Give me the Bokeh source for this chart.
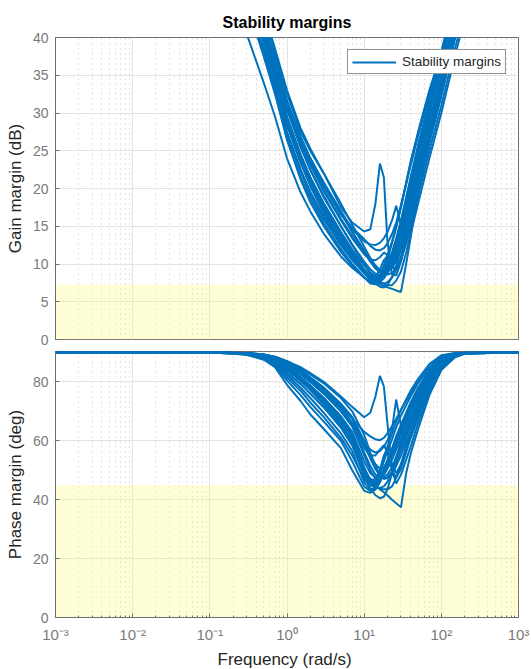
from bokeh.plotting import figure
from bokeh.models import Range1d, BoxAnnotation, FixedTicker, Legend, LegendItem
from bokeh.layouts import column
from bokeh.embed import file_html
from bokeh.resources import INLINE

# ---------------- data ----------------
freq = [0.001, 0.1, 0.2, 0.3, 0.5, 0.7, 1, 1.5, 2, 3, 5, 7, 10, 12, 14, 16, 18, 20,
        23, 26, 30, 35, 40, 50, 70, 100, 150, 200, 1000]

gain_margin_db = [
    [150, 68, 54, 46.5, 39.5, 34.5, 28.5, 23.5, 20.5, 17, 13.5, 11.3, 9.3, 8.5, 8.1, 8.2, 8.7, 9.3, 10.3, 11.8, 13.8, 16.5, 19, 23, 29, 35, 42.5, 47.5, 78],
    [140, 60, 47, 40.5, 34, 29.5, 24, 19.5, 17, 14, 11, 9.5, 8.2, 7.7, 7.5, 7.6, 8.1, 8.8, 9.9, 11.5, 13.6, 16.3, 18.8, 22.8, 28.8, 34.8, 42.3, 47.3, 78],
    [155, 71, 56, 48, 41, 36, 30.5, 25.5, 22.5, 19, 15, 12.6, 10.3, 9.3, 8.7, 8.5, 8.6, 8.9, 9.5, 10.4, 12, 14.5, 17, 21, 27, 33, 40.5, 45.5, 77],
    [152, 69, 55, 47.3, 40.3, 35.5, 29.5, 24.5, 21.5, 18, 14.2, 11.8, 9.2, 8.0, 7.6, 7.9, 8.8, 9.8, 11.2, 13, 15.2, 18.2, 20.8, 25, 31, 37, 44.5, 49.5, 79],
    [146, 65, 51.5, 44.5, 37.5, 32.5, 26.5, 21.5, 18.7, 15.4, 12, 10, 8.3, 7.4, 7.3, 7.8, 8.8, 10, 11.6, 13.4, 15.8, 18.8, 21.5, 25.8, 31.8, 37.5, 45, 50, 80],
    [158, 73, 56, 48, 41, 36.5, 30.8, 26, 23.2, 19.8, 16, 13.7, 11.5, 10.4, 9.6, 9.1, 8.8, 8.6, 8.8, 9.4, 10.5, 12.7, 15, 19, 25, 31, 38.5, 43.5, 75],
    [150, 68, 54, 46.5, 39.5, 34.5, 28.5, 23.5, 20.5, 17, 13.5, 11.2, 8.9, 7.8, 7.9, 8.6, 9.8, 11.2, 13, 15, 17.6, 20.8, 23.5, 27.5, 33, 38, 45.5, 50.5, 80],
    [165, 78, 58, 50, 43, 38, 32.5, 27.5, 25, 22, 18, 15.2, 12.3, 10.8, 9.8, 9.2, 9, 9.2, 9.8, 10.8, 12.5, 15, 17.5, 21.5, 27.5, 33.5, 41, 46, 77],
    [168, 80, 59, 51, 43.5, 38.5, 33, 28, 25.3, 22, 17.5, 15.5, 14.3, 14.6, 18, 23.3, 21.5, 13, 8.6, 8.5, 10.3, 13.3, 16, 20.3, 26.8, 33, 40.5, 45.5, 76],
    [162, 76, 57, 49, 42, 37, 31.5, 26.8, 24, 20.8, 17, 14.6, 13, 12.6, 12.5, 12.8, 13.4, 14.2, 15.8, 17.7, 15.2, 12.8, 14.6, 19.5, 27, 33.8, 41.5, 46.5, 77],
    [160, 75, 57, 49, 41.8, 37, 31.5, 26.3, 23.5, 20.3, 16.5, 14.8, 13.3, 12.4, 11.9, 11.8, 12.1, 12.7, 14, 15.5, 17.8, 20.6, 23, 27, 32.5, 38, 45.5, 50.5, 80],
    [150, 68, 54, 46.5, 39.5, 34.5, 28.5, 23.5, 20.3, 16.7, 13, 10.8, 9, 8.2, 7.6, 7.3, 7.1, 6.9, 6.7, 6.5, 6.3, 10, 13.5, 19.5, 27.5, 34, 41.5, 46.5, 77],
    [148, 66, 52.5, 45.3, 38.3, 33.3, 27.3, 22.5, 19.5, 16.2, 12.8, 10.7, 8.8, 8, 7.4, 7, 6.9, 7.2, 8.3, 9.8, 12, 14.8, 17.5, 21.5, 27.5, 33.5, 41, 46, 77],
    [155, 71, 56.5, 48.5, 41.5, 36.5, 30.5, 25.5, 22.5, 18.8, 15, 12.5, 10, 8.8, 8.1, 8.1, 8.6, 9.4, 10.7, 12.4, 14.6, 17.5, 20, 24, 30, 36, 43.5, 48.5, 79],
    [148, 66, 52.5, 45.5, 38.5, 33.5, 27.5, 22.5, 19.5, 16.2, 12.8, 10.7, 9, 8.3, 7.9, 7.6, 7.4, 7.2, 7.2, 7.8, 9, 11.5, 14, 18, 24, 30, 37.5, 42.5, 74],
    [160, 75, 57, 49, 42, 37.3, 31.5, 26.8, 24, 20.6, 16.8, 14.3, 11.8, 10.5, 9.6, 9.1, 9.2, 9.6, 10.5, 11.9, 13.8, 16.5, 19, 23, 29, 35, 42.5, 47.5, 78],
    [150, 68, 54, 46.5, 39.5, 34.5, 28.5, 23.5, 20.5, 17, 13.3, 11, 8.9, 8.1, 8.3, 9.3, 10.5, 11, 9.8, 9.2, 10.8, 13.8, 16.5, 20.8, 27, 33, 40.5, 45.5, 76],
    [153, 70, 55.5, 47.5, 40.5, 35.5, 29.3, 24.3, 21.2, 17.6, 14, 11.5, 9, 7.9, 7.6, 8, 9.2, 10.6, 12.8, 14.8, 17.5, 20.6, 23.5, 27.3, 32.8, 37.5, 45, 50, 80],
    [152, 69.5, 55, 47.2, 40.2, 35.2, 29.5, 24.5, 21.5, 18, 14.2, 11.9, 9.8, 8.9, 8.4, 8.3, 8.6, 9.1, 9.9, 11.1, 13, 15.5, 18, 22, 28, 34, 41.5, 46.5, 77],
    [145, 64, 51, 44.5, 38.5, 33, 26.5, 21.2, 18.2, 15, 11.6, 9.8, 8.2, 7.5, 7.4, 7.8, 8.6, 9.6, 11, 12.7, 15, 18, 20.6, 24.8, 30.8, 36.8, 44.3, 49.3, 79],
    [160, 75, 56.5, 48.5, 41.5, 37, 31.5, 26.8, 24, 20.6, 16.8, 14.2, 11.6, 10.3, 9.4, 8.9, 8.8, 9, 9.6, 10.6, 12.3, 14.8, 17.3, 21.3, 27.3, 33.3, 40.8, 45.8, 77],
    [150, 68, 54, 46.5, 39.5, 34.5, 28.8, 23.8, 20.8, 17.3, 13.8, 11.5, 9.2, 8.2, 7.8, 7.9, 8.5, 9.4, 10.8, 12.6, 14.8, 17.7, 20.2, 24.2, 30.2, 36.2, 43.5, 48.5, 79],
    [146, 65, 51.5, 45, 38.3, 33.3, 27.2, 22.2, 19.2, 15.9, 12.5, 10.5, 8.8, 8.1, 7.7, 7.5, 7.4, 7.6, 8.2, 9.2, 11, 13.8, 16.3, 20.5, 26.5, 32.5, 40, 45, 76],
    [158, 73, 56, 48, 41, 36.5, 30.8, 26, 23.2, 19.6, 15.8, 13.4, 11.3, 10.6, 10.5, 10.9, 11.5, 11.2, 9.5, 9.3, 10.6, 13, 15.5, 19.8, 26, 32.2, 39.8, 44.8, 76],
]

phase_margin_deg = [
    [90, 90, 89.8, 89.5, 88.5, 87, 84, 80.5, 77.5, 73, 66.5, 61, 50, 47, 46.5, 48, 50.5, 53, 56.5, 60, 63.5, 67.5, 71, 76, 82.5, 87, 89.3, 89.8, 90],
    [90, 90, 89.5, 89.2, 87.5, 85, 79, 73.5, 69, 64, 57.5, 50, 43, 42.3, 43.5, 46, 49, 52, 55.5, 59, 63, 67, 70.5, 75.5, 82, 86.8, 89.2, 89.8, 90],
    [90, 90, 89.8, 89.7, 89, 87.8, 85.5, 82.5, 80, 76, 70, 65, 56, 51.5, 48.5, 47.5, 48.5, 50.5, 53.5, 57, 60.5, 64.5, 68, 73.5, 80.5, 86, 89, 89.7, 90],
    [90, 90, 89.8, 89.6, 88.7, 87.3, 84.8, 81.5, 78.8, 74.5, 68, 62.5, 51, 46.5, 45.2, 46.5, 49.5, 52.5, 56.5, 60.5, 64.5, 68.5, 72, 77, 83.5, 87.8, 89.5, 89.9, 90],
    [90, 90, 89.7, 89.4, 88, 86, 82.3, 78, 74.5, 69.5, 62.5, 56.5, 46, 43.5, 44, 46.5, 50, 53.5, 57.5, 61.5, 65.5, 69.5, 73, 78, 84, 88, 89.6, 89.9, 90],
    [90, 90, 89.8, 89.7, 89.1, 88, 86, 83.5, 81, 77.5, 72, 67.5, 58.5, 54, 50.5, 48.5, 47.5, 47.2, 48.5, 51.5, 55, 59.5, 63.5, 69.5, 78, 84.5, 88.5, 89.6, 90],
    [90, 90, 89.8, 89.5, 88.5, 87, 84, 80.5, 77.5, 73, 66.5, 60.5, 49, 45, 46, 49, 53, 56.5, 60.5, 64.5, 68.5, 72, 75, 79.5, 85, 88.6, 89.7, 89.9, 90],
    [90, 90, 89.9, 89.8, 89.3, 88.5, 87, 84.5, 82.5, 79.5, 74.5, 70, 62, 56, 51.5, 48.5, 47, 47.5, 49.5, 53, 57, 61.5, 65.5, 71.5, 79.5, 85.5, 88.8, 89.7, 90],
    [90, 90, 89.9, 89.8, 89.3, 88.5, 87, 85, 83, 80, 75, 71.5, 68, 69.5, 75, 82, 78.5, 66, 50, 45.5, 48.5, 53.5, 58, 66, 76.5, 84.5, 88.5, 89.6, 90],
    [90, 90, 89.9, 89.7, 89.2, 88.2, 86.5, 83.5, 81, 77.5, 71.5, 66, 59, 57, 56, 56.5, 58, 60, 64, 74, 65, 58.5, 61, 68, 78.5, 85.5, 88.8, 89.6, 90],
    [90, 90, 89.9, 89.8, 89.2, 88.3, 86.5, 84, 81.5, 78, 72, 67.5, 63, 61.5, 60.5, 60.2, 61, 62.5, 65, 67.5, 70.5, 73.5, 76, 80, 85, 88.3, 89.6, 89.9, 90],
    [90, 90, 89.8, 89.5, 88.5, 87, 84, 80.5, 77.3, 72.5, 65.5, 59.5, 50, 47, 45, 43.5, 42.5, 41.5, 40, 38.8, 37.4, 49, 55.5, 64, 75.5, 84, 88.3, 89.5, 90],
    [90, 90, 89.7, 89.4, 88.2, 86.5, 83, 79.3, 76, 71.5, 64.5, 58.5, 48, 44, 41.5, 40.5, 41, 43.5, 49, 54.5, 59.5, 64, 68, 73.5, 80.5, 86, 89, 89.7, 90],
    [90, 90, 89.8, 89.7, 89, 87.8, 85.5, 82.5, 80, 76, 70, 65, 55, 50, 47, 46.5, 48.5, 51.5, 55.5, 59.5, 63.5, 67.5, 71, 76, 82.5, 87, 89.3, 89.8, 90],
    [90, 90, 89.7, 89.4, 88.2, 86.3, 83, 79.3, 76, 71.3, 64.5, 58.5, 49, 46, 44.5, 43.8, 43.5, 43.5, 44.5, 47.5, 52, 57, 61.5, 68.5, 77.5, 84.8, 88.5, 89.6, 90],
    [90, 90, 89.9, 89.8, 89.2, 88.3, 86.5, 84, 81.5, 78, 72.5, 68, 59.5, 55, 52, 50.5, 51, 53, 56.5, 60, 63.5, 67.5, 71, 76, 82.5, 87, 89.3, 89.8, 90],
    [90, 90, 89.8, 89.5, 88.5, 87, 84, 80.5, 77.5, 72.5, 65.5, 59.5, 48.5, 45, 45.5, 50, 55, 57, 52, 49, 52, 58, 63.5, 70.5, 79.5, 86, 89, 89.7, 90],
    [90, 90, 89.8, 89.6, 88.7, 87.3, 84.8, 81.5, 78.5, 74, 67.5, 62, 49.5, 45.2, 46.5, 50, 54.5, 58, 62.5, 66.5, 70.5, 74, 77, 81, 86, 89, 89.8, 90, 90],
    [90, 90, 89.8, 89.6, 88.8, 87.4, 85, 81.5, 78.8, 74.5, 68.3, 63, 53, 49, 47.5, 47.8, 49.5, 51.8, 55, 58.3, 62, 66, 69.5, 74.8, 81.5, 86.5, 89.2, 89.8, 90],
    [90, 90, 89.6, 89.3, 87.7, 85.5, 80.5, 75.5, 71.5, 66.5, 60, 53, 44.5, 43, 43.5, 46, 49.5, 53, 56.8, 60.5, 64.5, 68.5, 72, 77, 83, 87.5, 89.5, 89.9, 90],
    [90, 90, 89.9, 89.7, 89.1, 88.2, 86.5, 84, 81.5, 78, 72.5, 68, 60, 54.5, 50.5, 48, 47.5, 48.5, 51, 54.5, 58.5, 62.8, 66.5, 72.3, 80, 85.8, 88.9, 89.7, 90],
    [90, 90, 89.8, 89.5, 88.5, 87, 84.3, 81, 78, 73.5, 67, 61.5, 50.5, 46.5, 45.5, 47, 50, 53, 57, 60.8, 64.5, 68.5, 72, 77, 83, 87.3, 89.4, 89.8, 90],
    [90, 90, 89.6, 89.3, 87.8, 85.8, 81.5, 77, 73, 68, 61, 55, 47, 45, 44, 44, 44.5, 46, 49, 52.5, 56.8, 61.5, 65.5, 72, 80, 86, 89, 89.7, 90],
    [90, 90, 89.9, 89.7, 89, 87.9, 86, 83.2, 80.6, 76.8, 71, 66, 57.5, 55, 55, 57, 58.5, 56, 50, 47.5, 50.5, 56, 61, 68, 77.5, 85, 88.7, 89.6, 90],
]

gain_ticks = [0, 5, 10, 15, 20, 25, 30, 35, 40]
phase_ticks = [0, 20, 40, 60, 80]
freq_ticks = [1e-3, 1e-2, 1e-1, 1e0, 1e1, 1e2, 1e3]
freq_tick_labels = ["10\u207b\u00b3", "10\u207b\u00b2", "10\u207b\u00b9", "10\u2070",
                    "10\u00b9", "10\u00b2", "10\u00b3"]
gain_bound_db = 7.3
phase_bound_deg = 45

# ---------------- styling ----------------
FONT = "Liberation Sans"
BLUE = "#0072BD"
TICK_COLOR = "#7a7a7a"
LABEL_COLOR = "#262626"
AXIS_COLOR = "#6e6e6e"
minor = [k * 10.0 ** e for e in range(-3, 3) for k in range(2, 10)]

x_range = Range1d(1e-3, 1e3)


def style(p, yticks, ylabel):
    p.background_fill_color = "white"
    p.border_fill_color = "white"
    p.outline_line_color = AXIS_COLOR
    p.outline_line_width = 1
    for ax in p.yaxis:
        ax.ticker = FixedTicker(ticks=yticks)
        ax.axis_label = ylabel
        ax.axis_label_text_font = FONT
        ax.axis_label_text_font_size = "17px"
        ax.axis_label_text_font_style = "normal"
        ax.axis_label_text_color = LABEL_COLOR
        ax.axis_label_standoff = 5
        ax.major_label_text_font = FONT
        ax.major_label_text_font_size = "14px"
        ax.major_label_text_color = TICK_COLOR
        ax.major_label_standoff = 7
        ax.axis_line_color = AXIS_COLOR
        ax.major_tick_line_color = AXIS_COLOR
        ax.major_tick_in = 4
        ax.major_tick_out = 0
        ax.minor_tick_line_color = None
    for ax in p.xaxis:
        ax.ticker = FixedTicker(ticks=freq_ticks, minor_ticks=minor)
        ax.major_label_overrides = dict(zip(freq_ticks, freq_tick_labels))
        ax.major_label_text_font = FONT
        ax.major_label_text_font_size = "15px"
        ax.major_label_text_color = TICK_COLOR
        ax.major_label_standoff = 8
        ax.axis_line_color = AXIS_COLOR
        ax.major_tick_line_color = AXIS_COLOR
        ax.major_tick_in = 4
        ax.major_tick_out = 0
        ax.minor_tick_line_color = AXIS_COLOR
        ax.minor_tick_in = 2
        ax.minor_tick_out = 0
        ax.axis_label_text_font = FONT
        ax.axis_label_text_font_size = "17px"
        ax.axis_label_text_font_style = "normal"
        ax.axis_label_text_color = LABEL_COLOR
        ax.axis_label_standoff = 4
    p.xgrid.grid_line_color = "#e3e3e3"
    p.xgrid.grid_line_width = 1
    p.xgrid.minor_grid_line_color = "#c8c8c8"
    p.xgrid.minor_grid_line_dash = "1 4"
    p.xgrid.minor_grid_line_width = 1
    p.ygrid.grid_line_color = "#e3e3e3"
    p.ygrid.grid_line_width = 1


top = figure(x_axis_type="log", x_range=x_range, y_range=Range1d(0, 40),
             frame_width=463, frame_height=302,
             min_border_left=55, min_border_right=13, min_border_top=37, min_border_bottom=12,
             output_backend="svg", toolbar_location=None, title="Stability margins")
style(top, gain_ticks, "Gain margin (dB)")
top.xaxis.visible = False
top.title.align = "center"
top.title.text_font = FONT
top.title.text_font_size = "16px"
top.title.text_font_style = "bold"
top.title.text_color = "black"
top.title.standoff = 13

top.add_layout(BoxAnnotation(bottom=0, top=gain_bound_db, fill_color="#ffff70",
                             fill_alpha=0.28, line_color=None, level="underlay"))
r1 = top.multi_line(xs=[freq] * len(gain_margin_db), ys=gain_margin_db,
                    line_color=BLUE, line_width=2)
legend = Legend(items=[LegendItem(label="Stability margins", renderers=[r1])],
                location="top_right")
legend.margin = 12
legend.padding = 4
legend.spacing = 0
legend.glyph_width = 44
legend.glyph_height = 14
legend.label_height = 14
legend.label_standoff = 6
legend.label_text_font = FONT
legend.label_text_font_size = "13.5px"
legend.label_text_color = LABEL_COLOR
legend.border_line_color = "#262626"
legend.border_line_width = 1
legend.background_fill_color = "white"
legend.background_fill_alpha = 1
top.add_layout(legend)

bottom = figure(x_axis_type="log", x_range=x_range, y_range=Range1d(0, 90.3),
                frame_width=463, frame_height=266,
                min_border_left=55, min_border_right=13, min_border_top=0, min_border_bottom=52,
                output_backend="svg", toolbar_location=None)
style(bottom, phase_ticks, "Phase margin (deg)")
bottom.xaxis.axis_label = "Frequency  (rad/s)"
bottom.add_layout(BoxAnnotation(bottom=0, top=phase_bound_deg, fill_color="#ffff70",
                                fill_alpha=0.28, line_color=None, level="underlay"))
bottom.multi_line(xs=[freq] * len(phase_margin_deg), ys=phase_margin_deg,
                  line_color=BLUE, line_width=2)

layout = column(top, bottom, spacing=0)
open("out.html", "w").write(file_html(layout, INLINE))
